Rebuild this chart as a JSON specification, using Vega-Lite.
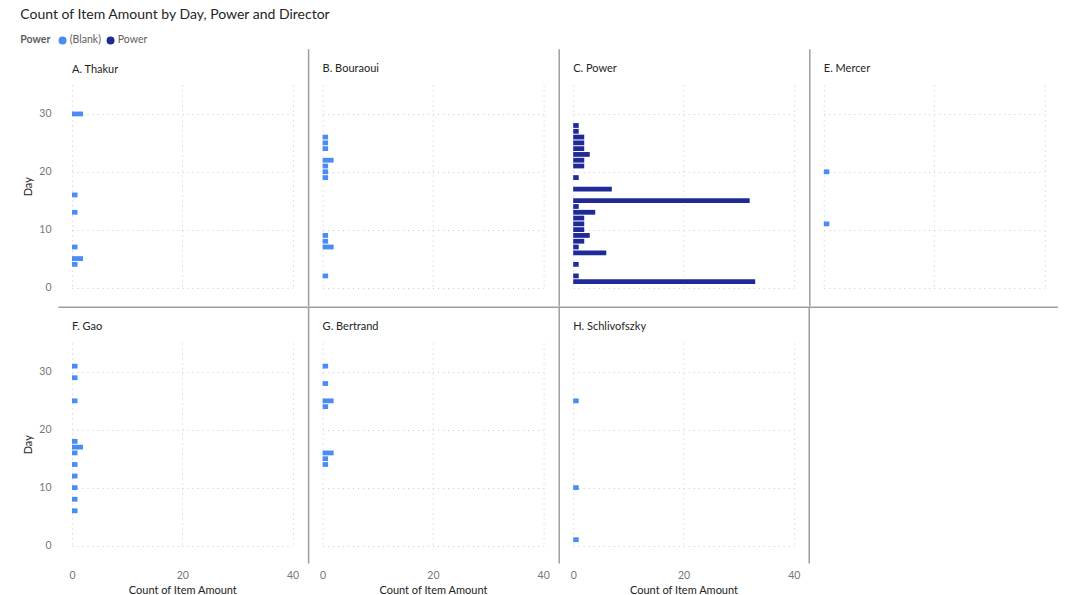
{
  "$schema": "https://vega.github.io/schema/vega-lite/v6.json",
  "padding": {"left": 20, "top": 8, "right": 10, "bottom": 0},
  "background": "#ffffff",
  "title": {"text": "Count of Item Amount by Day, Power and Director", "anchor": "start", "frame": "group", "dx": -51.7, "fontSize": 14, "fontWeight": "normal", "font": "Segoe UI, Lato, sans-serif", "color": "#252423", "offset": 13},
  "datasets": {
    "d": [
      {"director": "A. Thakur", "power": "(Blank)", "day": 30, "count": 2},
      {"director": "A. Thakur", "power": "(Blank)", "day": 16, "count": 1},
      {"director": "A. Thakur", "power": "(Blank)", "day": 13, "count": 1},
      {"director": "A. Thakur", "power": "(Blank)", "day": 7, "count": 1},
      {"director": "A. Thakur", "power": "(Blank)", "day": 5, "count": 2},
      {"director": "A. Thakur", "power": "(Blank)", "day": 4, "count": 1},
      {"director": "B. Bouraoui", "power": "(Blank)", "day": 26, "count": 1},
      {"director": "B. Bouraoui", "power": "(Blank)", "day": 25, "count": 1},
      {"director": "B. Bouraoui", "power": "(Blank)", "day": 24, "count": 1},
      {"director": "B. Bouraoui", "power": "(Blank)", "day": 22, "count": 2},
      {"director": "B. Bouraoui", "power": "(Blank)", "day": 21, "count": 1},
      {"director": "B. Bouraoui", "power": "(Blank)", "day": 20, "count": 1},
      {"director": "B. Bouraoui", "power": "(Blank)", "day": 19, "count": 1},
      {"director": "B. Bouraoui", "power": "(Blank)", "day": 9, "count": 1},
      {"director": "B. Bouraoui", "power": "(Blank)", "day": 8, "count": 1},
      {"director": "B. Bouraoui", "power": "(Blank)", "day": 7, "count": 2},
      {"director": "B. Bouraoui", "power": "(Blank)", "day": 2, "count": 1},
      {"director": "C. Power", "power": "Power", "day": 28, "count": 1},
      {"director": "C. Power", "power": "Power", "day": 27, "count": 1},
      {"director": "C. Power", "power": "Power", "day": 26, "count": 2},
      {"director": "C. Power", "power": "Power", "day": 25, "count": 2},
      {"director": "C. Power", "power": "Power", "day": 24, "count": 2},
      {"director": "C. Power", "power": "Power", "day": 23, "count": 3},
      {"director": "C. Power", "power": "Power", "day": 22, "count": 2},
      {"director": "C. Power", "power": "Power", "day": 21, "count": 2},
      {"director": "C. Power", "power": "Power", "day": 19, "count": 1},
      {"director": "C. Power", "power": "Power", "day": 17, "count": 7},
      {"director": "C. Power", "power": "Power", "day": 15, "count": 32},
      {"director": "C. Power", "power": "Power", "day": 14, "count": 1},
      {"director": "C. Power", "power": "Power", "day": 13, "count": 4},
      {"director": "C. Power", "power": "Power", "day": 12, "count": 2},
      {"director": "C. Power", "power": "Power", "day": 11, "count": 2},
      {"director": "C. Power", "power": "Power", "day": 10, "count": 2},
      {"director": "C. Power", "power": "Power", "day": 9, "count": 3},
      {"director": "C. Power", "power": "Power", "day": 8, "count": 2},
      {"director": "C. Power", "power": "Power", "day": 7, "count": 1},
      {"director": "C. Power", "power": "Power", "day": 6, "count": 6},
      {"director": "C. Power", "power": "Power", "day": 4, "count": 1},
      {"director": "C. Power", "power": "Power", "day": 2, "count": 1},
      {"director": "C. Power", "power": "Power", "day": 1, "count": 33},
      {"director": "E. Mercer", "power": "(Blank)", "day": 20, "count": 1},
      {"director": "E. Mercer", "power": "(Blank)", "day": 11, "count": 1},
      {"director": "F. Gao", "power": "(Blank)", "day": 31, "count": 1},
      {"director": "F. Gao", "power": "(Blank)", "day": 29, "count": 1},
      {"director": "F. Gao", "power": "(Blank)", "day": 25, "count": 1},
      {"director": "F. Gao", "power": "(Blank)", "day": 18, "count": 1},
      {"director": "F. Gao", "power": "(Blank)", "day": 17, "count": 2},
      {"director": "F. Gao", "power": "(Blank)", "day": 16, "count": 1},
      {"director": "F. Gao", "power": "(Blank)", "day": 14, "count": 1},
      {"director": "F. Gao", "power": "(Blank)", "day": 12, "count": 1},
      {"director": "F. Gao", "power": "(Blank)", "day": 10, "count": 1},
      {"director": "F. Gao", "power": "(Blank)", "day": 8, "count": 1},
      {"director": "F. Gao", "power": "(Blank)", "day": 6, "count": 1},
      {"director": "G. Bertrand", "power": "(Blank)", "day": 31, "count": 1},
      {"director": "G. Bertrand", "power": "(Blank)", "day": 28, "count": 1},
      {"director": "G. Bertrand", "power": "(Blank)", "day": 25, "count": 2},
      {"director": "G. Bertrand", "power": "(Blank)", "day": 24, "count": 1},
      {"director": "G. Bertrand", "power": "(Blank)", "day": 16, "count": 2},
      {"director": "G. Bertrand", "power": "(Blank)", "day": 15, "count": 1},
      {"director": "G. Bertrand", "power": "(Blank)", "day": 14, "count": 1},
      {"director": "H. Schlivofszky", "power": "(Blank)", "day": 25, "count": 1},
      {"director": "H. Schlivofszky", "power": "(Blank)", "day": 10, "count": 1},
      {"director": "H. Schlivofszky", "power": "(Blank)", "day": 1, "count": 1}
    ]
  },
  "columns": 4,
  "spacing": {"row": 55, "column": 29.6},
  "bounds": "flush",
  "concat": [
    {
      "width": 220.6, "height": 202.5, "title": "A. Thakur",
      "layer": [
        {"data": {"name": "d"}, "transform": [{"filter": "datum.director == 'A. Thakur'"}],
         "mark": {"type": "bar", "orient": "horizontal", "size": 4.8},
         "encoding": {
           "x": {"field": "count", "type": "quantitative", "scale": {"domain": [0, 40], "nice": false}, "axis": {"values": [0, 20, 40], "labels": false, "title": null}},
           "y": {"field": "day", "type": "quantitative", "scale": {"domain": [0, 35], "nice": false}, "axis": {"values": [0, 10, 20, 30], "title": "Day", "labelPadding": 21, "titlePadding": 5}},
           "color": {"field": "power", "type": "nominal", "scale": {"domain": ["(Blank)", "Power"], "range": ["#4A8CF6", "#1F2A96"]},
             "legend": {"orient": "none", "legendX": -51.7, "legendY": -50, "direction": "horizontal", "titleOrient": "left", "title": "Power", "titleFontWeight": "bold", "titleFontSize": 10.5, "titleColor": "#605E5C", "titleFont": "Segoe UI, Lato, sans-serif", "labelFont": "Segoe UI, Lato, sans-serif", "labelFontSize": 10.5, "labelColor": "#605E5C", "symbolType": "circle", "symbolSize": 64, "symbolStrokeWidth": 0, "columnPadding": 4, "labelOffset": 2, "titlePadding": 6}}
         }},
        {"data": {"values": [{"sep": "none"}]}, "mark": {"type": "rule", "color": "#9E9E9E", "strokeWidth": 1.5, "strokeOpacity": 0},
         "encoding": {"x": {"datum": 0}, "y": {"datum": 41.2}, "y2": {"datum": 35}}}
      ]
    },
    {
      "width": 220.6, "height": 202.5, "title": "B. Bouraoui",
      "layer": [
        {"data": {"name": "d"}, "transform": [{"filter": "datum.director == 'B. Bouraoui'"}],
         "mark": {"type": "bar", "orient": "horizontal", "size": 4.8},
         "encoding": {
           "x": {"field": "count", "type": "quantitative", "scale": {"domain": [0, 40], "nice": false}, "axis": {"values": [0, 20, 40], "labels": false, "title": null}},
           "y": {"field": "day", "type": "quantitative", "scale": {"domain": [0, 35], "nice": false}, "axis": {"values": [0, 10, 20, 30], "labels": false, "title": null}},
           "color": {"field": "power", "type": "nominal"}
         }},
        {"data": {"values": [{"sep": "v"}]}, "mark": {"type": "rule", "color": "#9E9E9E", "strokeWidth": 1.5},
         "encoding": {"x": {"datum": -2.54}, "y": {"datum": 41.2}, "y2": {"datum": -3.3}}}
      ]
    },
    {
      "width": 220.6, "height": 202.5, "title": "C. Power",
      "layer": [
        {"data": {"name": "d"}, "transform": [{"filter": "datum.director == 'C. Power'"}],
         "mark": {"type": "bar", "orient": "horizontal", "size": 4.8},
         "encoding": {
           "x": {"field": "count", "type": "quantitative", "scale": {"domain": [0, 40], "nice": false}, "axis": {"values": [0, 20, 40], "labels": false, "title": null}},
           "y": {"field": "day", "type": "quantitative", "scale": {"domain": [0, 35], "nice": false}, "axis": {"values": [0, 10, 20, 30], "labels": false, "title": null}},
           "color": {"field": "power", "type": "nominal"}
         }},
        {"data": {"values": [{"sep": "v"}]}, "mark": {"type": "rule", "color": "#9E9E9E", "strokeWidth": 1.5},
         "encoding": {"x": {"datum": -2.54}, "y": {"datum": 41.2}, "y2": {"datum": -3.3}}}
      ]
    },
    {
      "width": 220.6, "height": 202.5, "title": "E. Mercer",
      "layer": [
        {"data": {"name": "d"}, "transform": [{"filter": "datum.director == 'E. Mercer'"}],
         "mark": {"type": "bar", "orient": "horizontal", "size": 4.8},
         "encoding": {
           "x": {"field": "count", "type": "quantitative", "scale": {"domain": [0, 40], "nice": false}, "axis": {"values": [0, 20, 40], "labels": false, "title": null}},
           "y": {"field": "day", "type": "quantitative", "scale": {"domain": [0, 35], "nice": false}, "axis": {"values": [0, 10, 20, 30], "labels": false, "title": null}},
           "color": {"field": "power", "type": "nominal"}
         }},
        {"data": {"values": [{"sep": "v"}]}, "mark": {"type": "rule", "color": "#9E9E9E", "strokeWidth": 1.5},
         "encoding": {"x": {"datum": -2.54}, "y": {"datum": 41.2}, "y2": {"datum": -3.3}}}
      ]
    },
    {
      "width": 220.6, "height": 202.5, "title": "F. Gao",
      "layer": [
        {"data": {"name": "d"}, "transform": [{"filter": "datum.director == 'F. Gao'"}],
         "mark": {"type": "bar", "orient": "horizontal", "size": 4.8},
         "encoding": {
           "x": {"field": "count", "type": "quantitative", "scale": {"domain": [0, 40], "nice": false}, "axis": {"values": [0, 20, 40], "title": "Count of Item Amount", "labelPadding": 25, "titlePadding": 3}},
           "y": {"field": "day", "type": "quantitative", "scale": {"domain": [0, 35], "nice": false}, "axis": {"values": [0, 10, 20, 30], "title": "Day", "labelPadding": 21, "titlePadding": 5}},
           "color": {"field": "power", "type": "nominal"}
         }},
        {"data": {"values": [{"sep": "h"}]}, "mark": {"type": "rule", "color": "#9E9E9E", "strokeWidth": 1.5},
         "encoding": {"x": {"datum": -2.48}, "x2": {"datum": 178.8}, "y": {"datum": 41.2}}}
      ]
    },
    {
      "width": 220.6, "height": 202.5, "title": "G. Bertrand",
      "layer": [
        {"data": {"name": "d"}, "transform": [{"filter": "datum.director == 'G. Bertrand'"}],
         "mark": {"type": "bar", "orient": "horizontal", "size": 4.8},
         "encoding": {
           "x": {"field": "count", "type": "quantitative", "scale": {"domain": [0, 40], "nice": false}, "axis": {"values": [0, 20, 40], "title": "Count of Item Amount", "labelPadding": 25, "titlePadding": 3}},
           "y": {"field": "day", "type": "quantitative", "scale": {"domain": [0, 35], "nice": false}, "axis": {"values": [0, 10, 20, 30], "labels": false, "title": null}},
           "color": {"field": "power", "type": "nominal"}
         }},
        {"data": {"values": [{"sep": "v"}]}, "mark": {"type": "rule", "color": "#9E9E9E", "strokeWidth": 1.5},
         "encoding": {"x": {"datum": -2.54}, "y": {"datum": 41.2}, "y2": {"datum": -3.1}}}
      ]
    },
    {
      "width": 220.6, "height": 202.5, "title": "H. Schlivofszky",
      "layer": [
        {"data": {"name": "d"}, "transform": [{"filter": "datum.director == 'H. Schlivofszky'"}],
         "mark": {"type": "bar", "orient": "horizontal", "size": 4.8},
         "encoding": {
           "x": {"field": "count", "type": "quantitative", "scale": {"domain": [0, 40], "nice": false}, "axis": {"values": [0, 20, 40], "title": "Count of Item Amount", "labelPadding": 25, "titlePadding": 3}},
           "y": {"field": "day", "type": "quantitative", "scale": {"domain": [0, 35], "nice": false}, "axis": {"values": [0, 10, 20, 30], "labels": false, "title": null}},
           "color": {"field": "power", "type": "nominal"}
         }},
        {"data": {"values": [{"sep": "v"}]}, "mark": {"type": "rule", "color": "#9E9E9E", "strokeWidth": 1.5},
         "encoding": {"x": {"datum": -2.54}, "y": {"datum": 41.2}, "y2": {"datum": -3.1}}},
        {"data": {"values": [{"sep": "v2"}]}, "mark": {"type": "rule", "color": "#9E9E9E", "strokeWidth": 1.5},
         "encoding": {"x": {"datum": 42.8}, "y": {"datum": 41.2}, "y2": {"datum": -3.1}}}
      ]
    }
  ],
  "config": {
    "view": {"stroke": null},
    "font": "Segoe UI, Lato, sans-serif",
    "scale": {"continuousPadding": 0},
    "axis": {"domain": false, "ticks": false, "grid": true, "labelFlush": false, "gridColor": "#C8C8C8", "gridDash": [1, 4], "gridWidth": 1, "labelColor": "#777777", "labelFontSize": 10.5, "labelFont": "Segoe UI, Lato, sans-serif", "titleColor": "#252423", "titleFontSize": 11, "titleFontWeight": "normal", "titleFont": "Segoe UI, Lato, sans-serif"},
    "title": {"anchor": "start", "frame": "group", "fontSize": 11, "fontWeight": "normal", "color": "#252423", "offset": -26, "font": "Segoe UI, Lato, sans-serif"}
  }
}
